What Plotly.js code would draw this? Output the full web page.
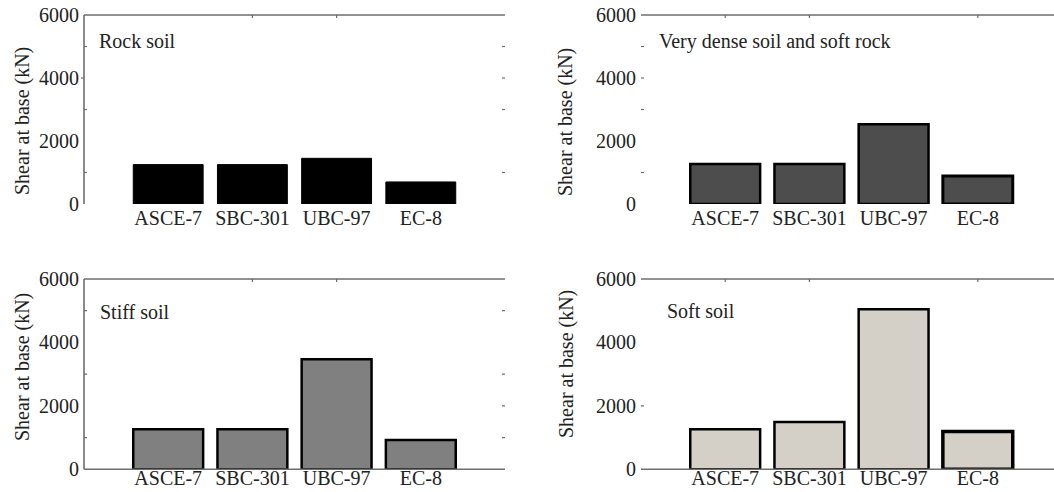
<!DOCTYPE html>
<html>
<head>
<meta charset="utf-8">
<script src="https://cdn.plot.ly/plotly-3.0.1.min.js"></script>
<style>html,body{margin:0;padding:0;background:#fff;}#chart{width:1054px;height:492px;}
#chart text{font-family:"Liberation Serif","Times New Roman",serif !important;}</style>
</head>
<body>
<div id="chart"></div>
<script>
// ---- data ----
var codes = ["ASCE-7", "SBC-301", "UBC-97", "EC-8"];
var rockSoil = [1250, 1250, 1450, 700];
var veryDenseSoil = [1270, 1270, 2530, 890];
var stiffSoil = [1260, 1260, 3470, 925];
var softSoil = [1260, 1490, 5050, 1190];
var panelTitles = ["Rock soil", "Very dense soil and soft rock", "Stiff soil", "Soft soil"];
var yTickVals = [0, 2000, 4000, 6000];
var yAxisTitle = "Shear at base (kN)";

// ---- style ----
var FONT = "Liberation Serif";
var TXT = "#222";
var LINE = "#6e6e6e";
var W = 1054, H = 492;

var panels = [
  {vals: rockSoil,      fill: "#000000", lw: [1,1,1,1],       xa: "x",  ya: "y",  xd: [84/W, 505/W], yd: [1-204/H, 1-15/H],    xr: [-1, 4], xstand: 0,
   leftLine: true, bottomLine: false, leftTicks: [{v:1000,d:1},{v:3000,d:1},{v:5000,d:1},{v:4000,d:-1}], rightTicks: [1000,3000,4000,5000], topTicks: [1,2],
   label: {x: 97, y: 41}, ytitle: {x: 22, y: 121}},
  {vals: veryDenseSoil, fill: "#4d4d4d", lw: [2.5,2.5,2.5,3], xa: "x2", ya: "y2", xd: [641/W, 1], yd: [1-204/H, 1-15/H],     xr: [-1, 3.905], xstand: 0,
   leftLine: false, bottomLine: false, leftTicks: [{v:1000,d:1},{v:3000,d:1},{v:5000,d:1},{v:4000,d:1}], rightTicks: [], topTicks: [0,1,3],
   label: {x: 657, y: 41}, ytitle: {x: 566, y: 122}},
  {vals: stiffSoil,     fill: "#808080", lw: [2.5,2.5,2.5,2.5], xa: "x3", ya: "y3", xd: [84/W, 505/W], yd: [1-469.3/H, 1-279/H], xr: [-1, 4], xstand: -5,
   leftLine: true, bottomLine: true, leftTicks: [{v:1000,d:1},{v:3000,d:1},{v:5000,d:1}], rightTicks: [1000,2000,3000,5000], topTicks: [1,2],
   label: {x: 98, y: 312}, ytitle: {x: 22, y: 367}},
  {vals: softSoil,      fill: "#d4d0c8", lw: [2.5,2.5,2.5,3.5], xa: "x4", ya: "y4", xd: [641/W, 1], yd: [1-469.3/H, 1-279/H], xr: [-1, 3.905], xstand: -5,
   leftLine: false, bottomLine: true, leftTicks: [{v:2000,d:1}], rightTicks: [], topTicks: [0,1,3],
   label: {x: 665, y: 311}, ytitle: {x: 566, y: 364}}
];

var data = [];
var layout = {
  width: W, height: H, autosize: false,
  margin: {l: 0, r: 0, t: 0, b: 0},
  paper_bgcolor: "#fff", plot_bgcolor: "rgba(0,0,0,0)",
  showlegend: false, bargap: 0.17,
  font: {family: FONT, size: 20, color: TXT},
  shapes: [], annotations: []
};

panels.forEach(function (p, i) {
  var n = i === 0 ? "" : String(i + 1);
  data.push({
    type: "bar", x: codes, y: p.vals, xaxis: p.xa, yaxis: p.ya,
    marker: {color: p.fill, line: {color: "#000", width: p.lw}},
    hoverinfo: "skip"
  });
  layout["xaxis" + n] = {
    domain: p.xd, range: p.xr, anchor: p.ya, type: "category",
    showline: false, showgrid: false, zeroline: false, ticks: "",
    ticklabelstandoff: p.xstand,
    tickfont: {family: FONT, size: 20, color: TXT}, fixedrange: true
  };
  layout["yaxis" + n] = {
    domain: p.yd, range: [0, 6000], anchor: p.xa,
    showline: false, showgrid: false, zeroline: false, ticks: "",
    tickmode: "array", tickvals: yTickVals, ticklabelstandoff: 4,
    tickfont: {family: FONT, size: 20, color: TXT}, fixedrange: true
  };
  var xd = p.xa + " domain", yd = p.ya + " domain";
  var ln = {color: LINE, width: 1.6};
  layout.shapes.push({type: "line", xref: xd, yref: yd, x0: 0, x1: 1, y0: 1, y1: 1, line: ln});
  if (p.leftLine) layout.shapes.push({type: "line", xref: xd, yref: yd, x0: 0, x1: 0, y0: 0, y1: 1, line: ln});
  if (p.bottomLine) layout.shapes.push({type: "line", xref: xd, yref: yd, x0: 0, x1: 1, y0: 0, y1: 0, line: ln});
  var tk = {color: LINE, width: 1.2};
  p.leftTicks.forEach(function (t) {
    layout.shapes.push({type: "line", xref: xd, yref: p.ya, xsizemode: "pixel", xanchor: 0,
      x0: 0, x1: 3 * t.d, y0: t.v, y1: t.v, line: tk});
  });
  p.rightTicks.forEach(function (v) {
    layout.shapes.push({type: "line", xref: xd, yref: p.ya, xsizemode: "pixel", xanchor: 1,
      x0: -3, x1: 0, y0: v, y1: v, line: tk});
  });
  p.topTicks.forEach(function (c) {
    layout.shapes.push({type: "line", xref: p.xa, yref: yd, ysizemode: "pixel", yanchor: 1,
      x0: c, x1: c, y0: 0, y1: -3, line: tk});
  });
  layout.annotations.push({
    text: panelTitles[i], xref: "paper", yref: "paper", x: p.label.x / W, y: 1 - p.label.y / H,
    xanchor: "left", yanchor: "middle", showarrow: false,
    font: {family: FONT, size: 20, color: TXT}
  });
  layout.annotations.push({
    text: yAxisTitle, xref: "paper", yref: "paper", x: p.ytitle.x / W, y: 1 - p.ytitle.y / H,
    xanchor: "center", yanchor: "middle", textangle: -90, showarrow: false,
    font: {family: FONT, size: 20, color: TXT}
  });
});

Plotly.newPlot("chart", data, layout, {staticPlot: true, displayModeBar: false});
</script>
</body>
</html>
